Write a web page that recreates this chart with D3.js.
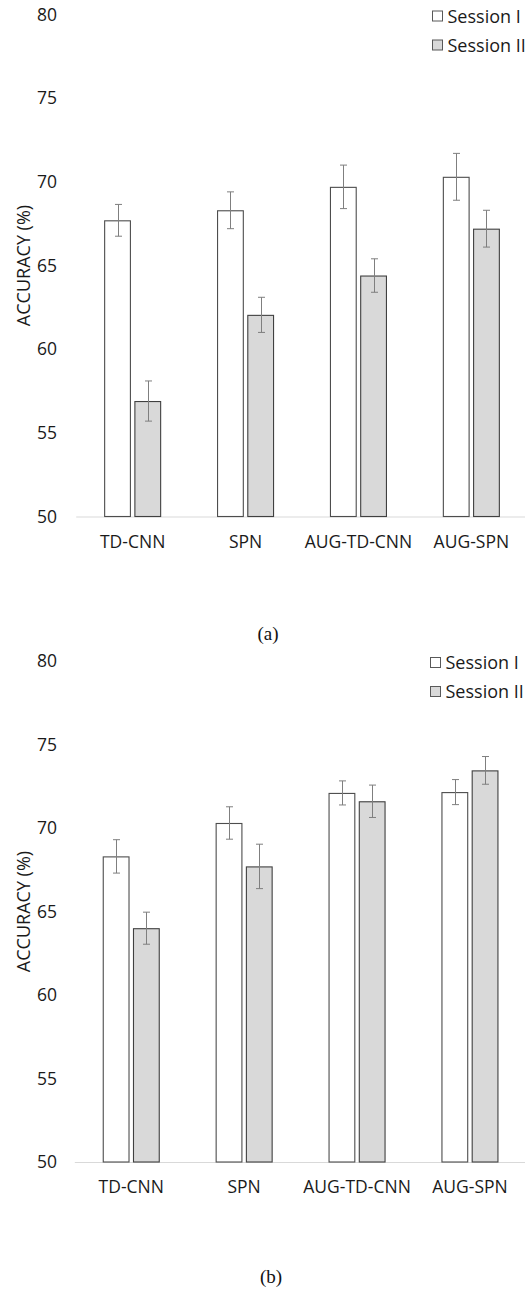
<!DOCTYPE html>
<html>
<head>
<meta charset="utf-8">
<script src="https://cdn.jsdelivr.net/npm/d3@7"></script>
<style>
  body { margin: 0; background: #fff; }
  svg { display: block; }
</style>
</head>
<body>
<svg id="chart" width="525" height="1290"></svg>
<script>
const categories = ["TD-CNN", "SPN", "AUG-TD-CNN", "AUG-SPN"];
const seriesNames = ["Session I", "Session II"];
const yTicks = [50, 55, 60, 65, 70, 75, 80];

// Panel (a)
const aSession1 = [67.7, 68.3, 69.7, 70.3];
const aSession1Err = [0.95, 1.1, 1.3, 1.4];
const aSession2 = [56.9, 62.05, 64.4, 67.2];
const aSession2Err = [1.2, 1.05, 1.0, 1.1];

// Panel (b)
const bSession1 = [68.3, 70.3, 72.1, 72.15];
const bSession1Err = [1.0, 0.97, 0.72, 0.75];
const bSession2 = [64.0, 67.7, 71.6, 73.45];
const bSession2Err = [0.96, 1.33, 0.97, 0.83];

const svg = d3.select("#chart");
const sansFont = "'Open Sans', 'Noto Sans', sans-serif";
const fs = 17.5;

function drawPanel(cfg) {
  const g = svg.append("g");
  const y = d3.scaleLinear().domain([50, 80]).range([cfg.yBottom, cfg.yTop]);
  const x0 = d3.scaleBand().domain(categories).range([cfg.xLeft, cfg.xLeft + 4 * 112.9]).paddingInner(0).paddingOuter(0);
  const x1 = d3.scaleBand().domain(seriesNames).range([0, 57]).paddingInner(0.115);
  const groupOffset = (x0.bandwidth() - 57) / 2;

  // baseline
  g.append("line")
    .attr("x1", cfg.xLeft).attr("x2", 525)
    .attr("y1", y(50) + 0.5).attr("y2", y(50) + 0.5)
    .attr("stroke", "#d9d9d9").attr("stroke-width", 1);

  // y tick labels
  const yAxis = d3.axisLeft(y).tickValues(yTicks).tickSize(0).tickPadding(0);
  const ya = g.append("g").attr("transform", `translate(${cfg.tickRight},0)`).call(yAxis);
  ya.select(".domain").remove();
  ya.attr("font-size", null).attr("font-family", null);
  ya.selectAll("text").attr("font-family", sansFont).attr("font-size", fs).attr("fill", "#1a1a1a");

  // x category labels
  const xAxis = d3.axisBottom(x0).tickSize(0).tickPadding(0);
  const xa = g.append("g").attr("transform", `translate(0,${y(50) + 19})`).call(xAxis);
  xa.select(".domain").remove();
  xa.attr("font-size", null).attr("font-family", null);
  xa.selectAll("text").attr("font-family", sansFont).attr("font-size", fs).attr("fill", "#1a1a1a");

  // y title
  g.append("text")
    .attr("transform", `translate(${cfg.titleX},${(y(50) + y(80)) / 2}) rotate(-90)`)
    .attr("text-anchor", "middle")
    .attr("dy", "0.35em")
    .attr("font-family", sansFont).attr("font-size", 18)
    .attr("fill", "#1a1a1a")
    .text("ACCURACY (%)");

  const series = [
    { name: "Session I", vals: cfg.s1, errs: cfg.e1, fill: "#ffffff", stroke: "#4d4d4d" },
    { name: "Session II", vals: cfg.s2, errs: cfg.e2, fill: "#d9d9d9", stroke: "#404040" }
  ];

  series.forEach(s => {
    const bars = g.append("g");
    bars.selectAll("rect").data(categories).join("rect")
      .attr("x", (c) => x0(c) + groupOffset + x1(s.name) + 0.5)
      .attr("y", (c, i) => y(s.vals[i]) + 0.5)
      .attr("width", x1.bandwidth() - 1)
      .attr("height", (c, i) => y(50) - y(s.vals[i]) - 0.5)
      .attr("fill", s.fill)
      .attr("stroke", s.stroke)
      .attr("stroke-width", 1.1);

    const eb = g.append("g").attr("stroke", "#7f7f7f").attr("stroke-width", 1);
    categories.forEach((c, i) => {
      const cx = Math.round(x0(c) + groupOffset + x1(s.name) + x1.bandwidth() / 2) + 0.5;
      const top = y(s.vals[i] + s.errs[i]);
      const bot = y(s.vals[i] - s.errs[i]);
      eb.append("line").attr("x1", cx).attr("x2", cx).attr("y1", top).attr("y2", bot);
      eb.append("line").attr("x1", cx - 3.5).attr("x2", cx + 3.5).attr("y1", top).attr("y2", top);
      eb.append("line").attr("x1", cx - 3.5).attr("x2", cx + 3.5).attr("y1", bot).attr("y2", bot);
    });
  });

  // legend
  series.forEach((s, i) => {
    const ly = cfg.legendY + i * 29;
    g.append("rect")
      .attr("x", cfg.legendX + 0.5).attr("y", ly - 5.5)
      .attr("width", 10).attr("height", 10)
      .attr("fill", s.fill).attr("stroke", "#595959").attr("stroke-width", 1);
    g.append("text")
      .attr("x", cfg.legendX + 15.5).attr("y", ly)
      .attr("dy", "0.35em")
      .attr("font-family", sansFont).attr("font-size", 18)
      .attr("fill", "#1a1a1a")
      .text(s.name);
  });

  // caption
  svg.append("text")
    .attr("x", cfg.capX).attr("y", cfg.capY)
    .attr("dy", "0.35em")
    .attr("text-anchor", "middle")
    .attr("font-family", "'Liberation Serif', 'Times New Roman', serif")
    .attr("font-size", 19)
    .attr("fill", "#111")
    .text(cfg.caption);
}

drawPanel({
  yTop: 14.5, yBottom: 516.5, xLeft: 76.2, tickRight: 57, titleX: 24,
  s1: aSession1, e1: aSession1Err, s2: aSession2, e2: aSession2Err,
  legendX: 432, legendY: 16.5, capX: 268, capY: 633, caption: "(a)"
});

drawPanel({
  yTop: 661, yBottom: 1162, xLeft: 74.8, tickRight: 57, titleX: 24,
  s1: bSession1, e1: bSession1Err, s2: bSession2, e2: bSession2Err,
  legendX: 430, legendY: 663, capX: 271, capY: 1276, caption: "(b)"
});
</script>
</body>
</html>
